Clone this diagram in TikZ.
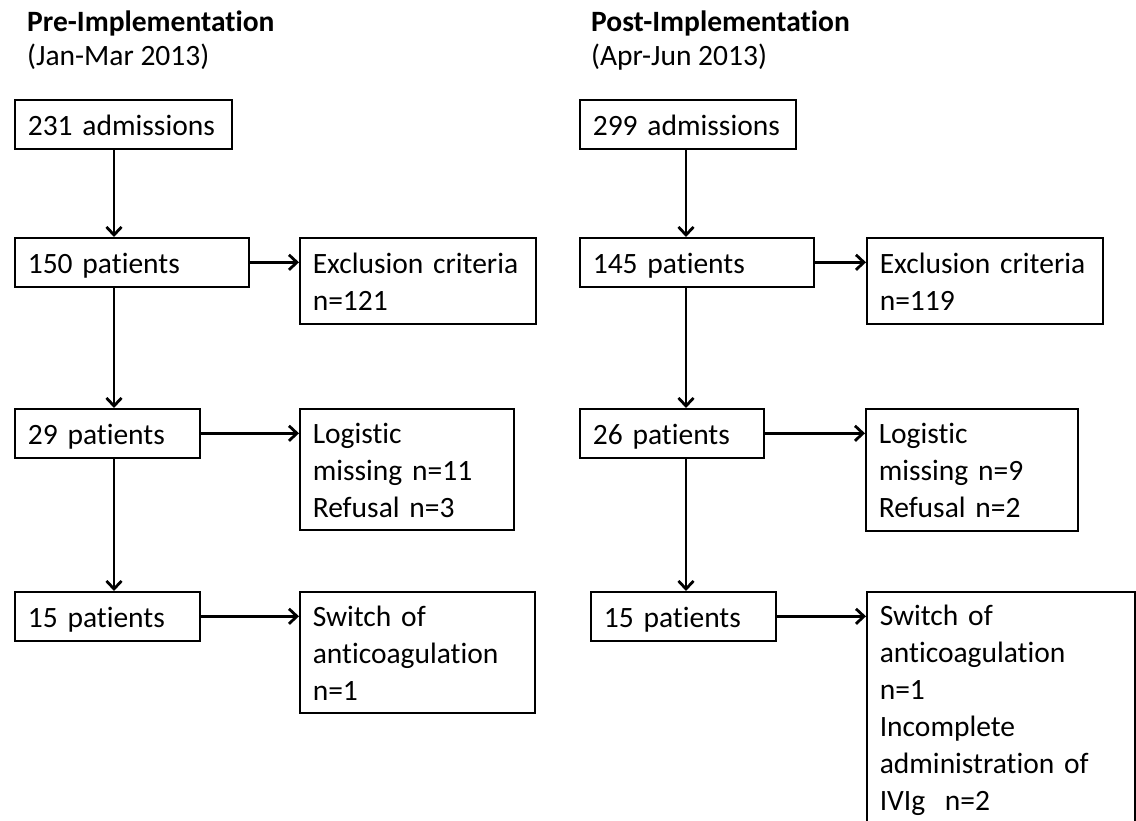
\documentclass[tikz,border=0pt]{standalone}
\usepackage{fontspec}
\setmainfont{Carlito}[RawFeature={-liga}]
\usetikzlibrary{arrows.meta}

\newcommand{\boxstrut}{\rule[-7pt]{0pt}{36pt}}

\tikzset{
  box/.style={draw, line width=1.6pt, anchor=north west, align=left,
    inner xsep=13pt, inner ysep=0pt, minimum height=49pt,
    font=\fontsize{29.5}{37}\selectfont,
    execute at begin node=\boxstrut, execute at end node=\boxstrut},
  arr/.style={line width=2.8pt, -{Straight Barb[length=8pt,width=15pt]}},
  head/.style={anchor=base west, inner sep=0pt, font=\fontsize{29.5}{35}\selectfont},
}

\begin{document}
\begin{tikzpicture}[x=1pt,y=-1pt]
  \useasboundingbox (0,0) rectangle (1136,820);
  % pre-implementation
  \node[head] (tit1) at (27,31) {\bfseries Pre-Implementation};
  \node[head] (per1) at (27,65) {(Jan-Mar 2013)};
  \node[box, text width=191pt] (adm1) at (14,99) {231 admissions};
  \node[box, text width=208pt] (pat1) at (14,237) {150 patients};
  \node[box, text width=210pt, minimum height=86pt] (exc1) at (299,237) {Exclusion criteria\\n=121};
  \node[box, text width=159pt] (pat1b) at (14,408) {29 patients};
  \node[box, text width=188pt, minimum height=121pt] (log1) at (299,408) {Logistic\\missing n=11\\Refusal n=3};
  \node[box, text width=159pt] (pat1c) at (14,591) {15 patients};
  \node[box, text width=209pt, minimum height=121pt] (sw1) at (299,591) {Switch of\\anticoagulation\\n=1};
  % post-implementation
  \node[head] (tit2) at (591,31) {\bfseries Post-Implementation};
  \node[head] (per2) at (591,65) {(Apr-Jun 2013)};
  \node[box, text width=190pt] (adm2) at (579,99) {299 admissions};
  \node[box, text width=208pt] (pat2) at (579,237) {145 patients};
  \node[box, text width=210pt, minimum height=86pt] (exc2) at (866,237) {Exclusion criteria\\n=119};
  \node[box, text width=158pt] (pat2b) at (579,408) {26 patients};
  \node[box, text width=186pt, minimum height=122pt] (log2) at (865,408) {Logistic\\missing n=9\\Refusal n=2};
  \node[box, text width=159pt] (pat2c) at (590,591) {15 patients};
  \node[box, text width=242pt, minimum height=231pt] (sw2) at (866,591) {Switch of\\anticoagulation\\n=1\\Incomplete\\administration of\\IVIg~ n=2};
  % arrows
  \coordinate (lx) at (114,0);
  \coordinate (rx) at (686,0);
  \draw[arr] (adm1.south -| lx) -- (pat1.north -| lx);
  \draw[arr] (pat1.south -| lx) -- (pat1b.north -| lx);
  \draw[arr] (pat1b.south -| lx) -- (pat1c.north -| lx);
  \draw[arr] (pat1) -- (exc1.west |- pat1);
  \draw[arr] (pat1b) -- (log1.west |- pat1b);
  \draw[arr] (pat1c) -- (sw1.west |- pat1c);
  \draw[arr] (adm2.south -| rx) -- (pat2.north -| rx);
  \draw[arr] (pat2.south -| rx) -- (pat2b.north -| rx);
  \draw[arr] (pat2b.south -| rx) -- (pat2c.north -| rx);
  \draw[arr] (pat2) -- (exc2.west |- pat2);
  \draw[arr] (pat2b) -- (log2.west |- pat2b);
  \draw[arr] (pat2c) -- (sw2.west |- pat2c);
\end{tikzpicture}
\end{document}
